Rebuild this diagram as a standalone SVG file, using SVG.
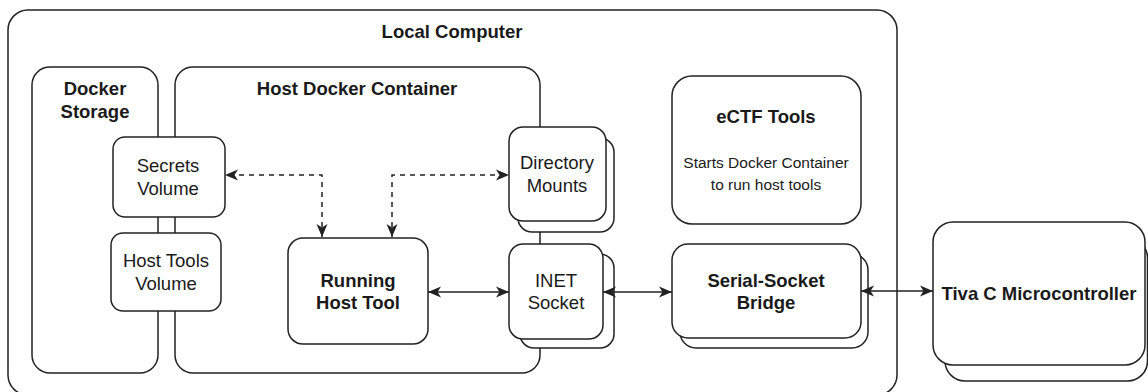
<svg xmlns="http://www.w3.org/2000/svg" width="1148" height="392" viewBox="0 0 1148 392">
<style>
.box{fill:#fff;stroke:#222;stroke-width:1.5}
.cont{fill:none;stroke:#222;stroke-width:1.5}
.t{font-family:"Liberation Sans",Arial,sans-serif;font-weight:bold;font-size:18.5px;fill:#1a1a1a;text-anchor:middle}
.r{font-family:"Liberation Sans",Arial,sans-serif;font-size:18.5px;fill:#1a1a1a;text-anchor:middle}
.s{font-family:"Liberation Sans",Arial,sans-serif;font-size:15.5px;fill:#1a1a1a;text-anchor:middle}
.ln{fill:none;stroke:#222;stroke-width:1.5}
.dash{stroke-dasharray:5 5}
</style>
<defs>
<marker id="arr" viewBox="0 0 14 12" refX="13" refY="6" markerWidth="14" markerHeight="12" markerUnits="userSpaceOnUse" orient="auto-start-reverse">
<path d="M0,0.5 L13,6 L0,11.5 L3.5,6 Z" fill="#222"/>
</marker>
</defs>
<rect width="1148" height="392" fill="#fff"/>
<g id="local-computer">
<rect class="cont" x="8" y="10" width="889" height="385" rx="20"/>
<text class="t" x="452" y="38">Local Computer</text>
</g>
<g id="docker-storage">
<rect class="cont" x="32" y="67" width="126" height="306" rx="18"/>
<text class="t" x="95" y="95">Docker</text>
<text class="t" x="95" y="118">Storage</text>
</g>
<g id="host-docker-container">
<rect class="cont" x="175" y="67" width="365" height="306" rx="18"/>
<text class="t" x="357" y="95">Host Docker Container</text>
</g>
<g id="ectf-tools">
<rect class="box" x="672" y="76" width="189" height="148" rx="20"/>
<text class="t" x="766" y="123">eCTF Tools</text>
<text class="s" x="766" y="168">Starts Docker Container</text>
<text class="s" x="766" y="190">to run host tools</text>
</g>
<g id="secrets-volume">
<rect class="box" x="113" y="137" width="112" height="80" rx="12"/>
<text class="r" x="168" y="172">Secrets</text>
<text class="r" x="168" y="195">Volume</text>
</g>
<g id="host-tools-volume">
<rect class="box" x="111" y="233" width="110" height="78" rx="12"/>
<text class="r" x="166" y="267">Host Tools</text>
<text class="r" x="166" y="290">Volume</text>
</g>
<g id="running-host-tool">
<rect class="box" x="288" y="238" width="140" height="106" rx="15"/>
<text class="t" x="358" y="287">Running</text>
<text class="t" x="358" y="309">Host Tool</text>
</g>
<g id="directory-mounts">
<rect class="box" x="518" y="138" width="96" height="94" rx="14"/>
<rect class="box" x="509" y="127" width="97" height="94" rx="14"/>
<text class="r" x="557" y="169">Directory</text>
<text class="r" x="557" y="192">Mounts</text>
</g>
<g id="inet-socket">
<rect class="box" x="520" y="254" width="94" height="94" rx="14"/>
<rect class="box" x="509" y="244" width="94" height="95" rx="14"/>
<text class="r" x="556" y="287">INET</text>
<text class="r" x="556" y="309">Socket</text>
</g>
<g id="serial-socket-bridge">
<rect class="box" x="680" y="254" width="188" height="94" rx="16"/>
<rect class="box" x="672" y="244" width="189" height="94" rx="16"/>
<text class="t" x="766" y="287">Serial-Socket</text>
<text class="t" x="766" y="309">Bridge</text>
</g>
<g id="tiva-c">
<rect class="box" x="945" y="238" width="202.5" height="143" rx="20"/>
<rect class="box" x="933" y="222" width="212" height="143" rx="20"/>
<text class="t" x="1039" y="300">Tiva C Microcontroller</text>
</g>
<g id="connectors">
<path class="ln dash" d="M322,237 V175 H225" marker-start="url(#arr)" marker-end="url(#arr)"/>
<path class="ln dash" d="M392,237 V175 H509" marker-start="url(#arr)" marker-end="url(#arr)"/>
<path class="ln" d="M428,292 H509" marker-start="url(#arr)" marker-end="url(#arr)"/>
<path class="ln" d="M603,292 H672" marker-start="url(#arr)" marker-end="url(#arr)"/>
<path class="ln" d="M861,291 H933" marker-start="url(#arr)" marker-end="url(#arr)"/>
</g>
</svg>
